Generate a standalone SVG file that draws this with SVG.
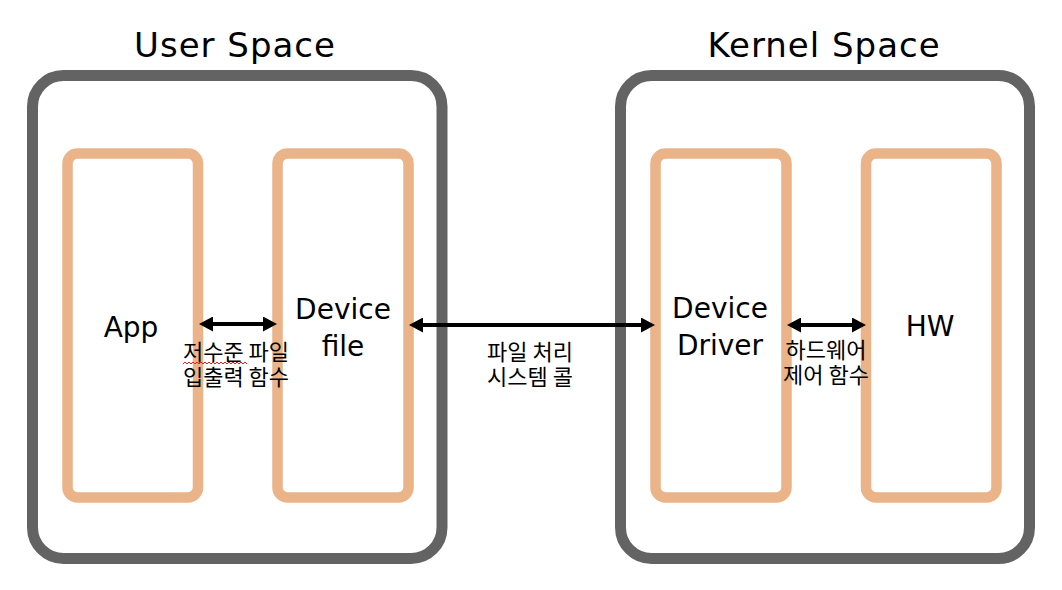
<svg xmlns="http://www.w3.org/2000/svg" width="1062" height="590" viewBox="0 0 1062 590">
  <style>
    .space { fill: #ffffff; stroke: #636363; stroke-width: 11; }
    .comp { fill: #ffffff; stroke: #EAB388; stroke-width: 10.5; }
    .title { font-family: "DejaVu Sans", "Noto Sans CJK KR", sans-serif; font-size: 34px; fill: #000; text-anchor: middle; letter-spacing: 1px; }
    .lbl { font-family: "DejaVu Sans", "Noto Sans CJK KR", sans-serif; font-size: 28px; fill: #000; text-anchor: middle; }
    .kr { font-family: "Noto Sans CJK KR", sans-serif; font-size: 22px; fill: #000; text-anchor: middle; }
    .conn { fill: none; stroke: #000; stroke-width: 4; marker-start: url(#ah); marker-end: url(#ah); }
  </style>
  <defs>
    <marker id="ah" markerUnits="userSpaceOnUse" viewBox="0 0 14 15" refX="6" refY="7.5" markerWidth="14" markerHeight="15" orient="auto-start-reverse">
      <path d="M0,0 L14,7.5 L0,15 z" fill="#000"/>
    </marker>
  </defs>
  <rect width="1062" height="590" fill="#ffffff"/>

  <g id="user-space">
    <rect class="space" x="32.5" y="75.5" width="409.5" height="483" rx="31" ry="31"/>
    <text class="title" x="235" y="57">User Space</text>
  </g>
  <g id="kernel-space">
    <rect class="space" x="620.5" y="75.5" width="409" height="483" rx="31" ry="31"/>
    <text class="title" x="824" y="57">Kernel Space</text>
  </g>

  <g id="app">
    <rect class="comp" x="67.5" y="153.5" width="130.5" height="344" rx="10" ry="10"/>
    <text class="lbl" x="131" y="337">App</text>
  </g>
  <g id="device-file">
    <rect class="comp" x="277.5" y="153.5" width="131" height="344" rx="10" ry="10"/>
    <text class="lbl" x="343" y="319"><tspan x="343">Device</tspan><tspan x="343" dy="37">file</tspan></text>
  </g>
  <g id="device-driver">
    <rect class="comp" x="655.5" y="153.5" width="131" height="344" rx="10" ry="10"/>
    <text class="lbl" x="720" y="318"><tspan x="720">Device</tspan><tspan x="720" dy="37">Driver</tspan></text>
  </g>
  <g id="hw">
    <rect class="comp" x="866" y="153.5" width="130.5" height="344" rx="10" ry="10"/>
    <text class="lbl" x="930" y="336">HW</text>
  </g>

  <g id="connectors">
    <path class="conn" d="M207,324 H269"/>
    <path class="conn" d="M417,325 H647"/>
    <path class="conn" d="M795,325 H858"/>
    <text class="kr" x="236" y="360"><tspan x="236">저수준 파일</tspan><tspan x="236" dy="25">입출력 함수</tspan></text>
    <path d="M183,364 l2,-2 l2,2 l2,-2 l2,2 l2,-2 l2,2 l2,-2 l2,2 l2,-2 l2,2 l2,-2 l2,2 l2,-2 l2,2 l2,-2 l2,2 l2,-2 l2,2 l2,-2 l2,2 l2,-2 l2,2 l2,-2 l2,2 l2,-2 l2,2 l2,-2 l2,2 l2,-2 l2,2 l2,-2 l2,2" fill="none" stroke="#E0201F" stroke-width="1"/>
    <text class="kr" x="530" y="360"><tspan x="530">파일 처리</tspan><tspan x="530" dy="25">시스템 콜</tspan></text>
    <text class="kr" x="826" y="358"><tspan x="826">하드웨어</tspan><tspan x="826" dy="25">제어 함수</tspan></text>
  </g>
</svg>
